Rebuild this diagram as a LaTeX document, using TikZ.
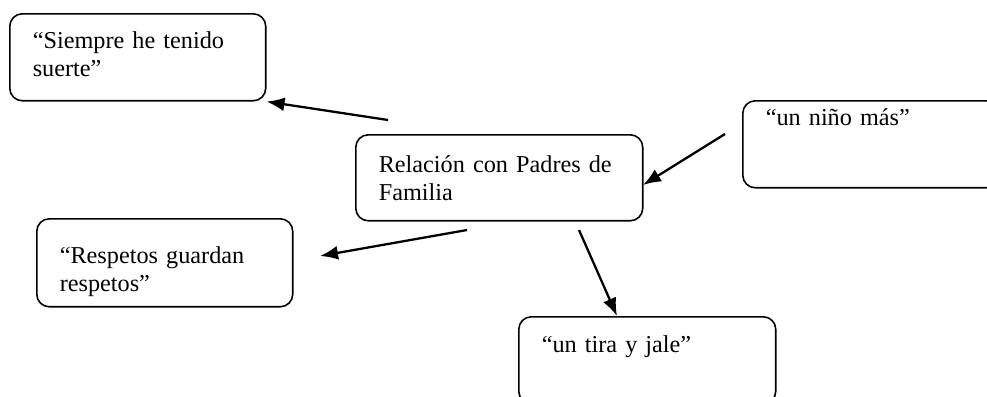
\documentclass[tikz,border=0pt]{standalone}
\usepackage{fontspec}
\setmainfont{Liberation Serif}
\usetikzlibrary{arrows.meta}
\tikzset{>={Latex[length=3.6mm,width=2.8mm]}}
\tikzset{caja/.style={draw, line width=0.9pt, rounded corners=2.5mm, anchor=north west,
    inner xsep=0.46cm, inner ysep=0pt, align=left, font=\fontsize{13.8}{15.8}\selectfont}}
\tikzset{flecha/.style={->, line width=1.3pt}}

\begin{document}
\begin{tikzpicture}[x=0.02cm,y=-0.02cm]
      \useasboundingbox (0,0) rectangle (987,396);
      \clip (0,0) rectangle (987,396);
      % cajas
      \node[caja, text width=4.2cm, text height=0.70cm, text depth=1.04cm] (siempre) at (9,13) {“Siempre he tenido\\suerte”};
      \node[caja, text width=4.82cm, text height=0.76cm, text depth=0.96cm] (relacion) at (355,134) {Relación con Padres de\\Familia};
      \node[caja, text width=4.2cm, text height=0.50cm, text depth=1.24cm] (nino) at (742,100) {“un niño más”};
      \node[caja, text width=4.2cm, text height=0.90cm, text depth=0.86cm] (respetos) at (36,218) {“Respetos guardan\\respetos”};
      \node[caja, text width=4.22cm, text height=0.72cm, text depth=1.02cm] (tira) at (518,316) {“un tira y jale”};
      % extremos libres
      \coordinate (c1) at (388,120);
      \coordinate (c2) at (725,134);
      \coordinate (t2) at (643,185);
      \coordinate (c3) at (467,230);
      \coordinate (t3) at (320,256);
      \coordinate (c4) at (579,230);
      \coordinate (t4) at (617,316);
      % flechas
      \draw[flecha] (c1) -- (siempre.south east);
      \draw[flecha] (c2) -- (t2);
      \draw[flecha] (c3) -- (t3);
      \draw[flecha] (c4) -- (t4);
\end{tikzpicture}
\end{document}
